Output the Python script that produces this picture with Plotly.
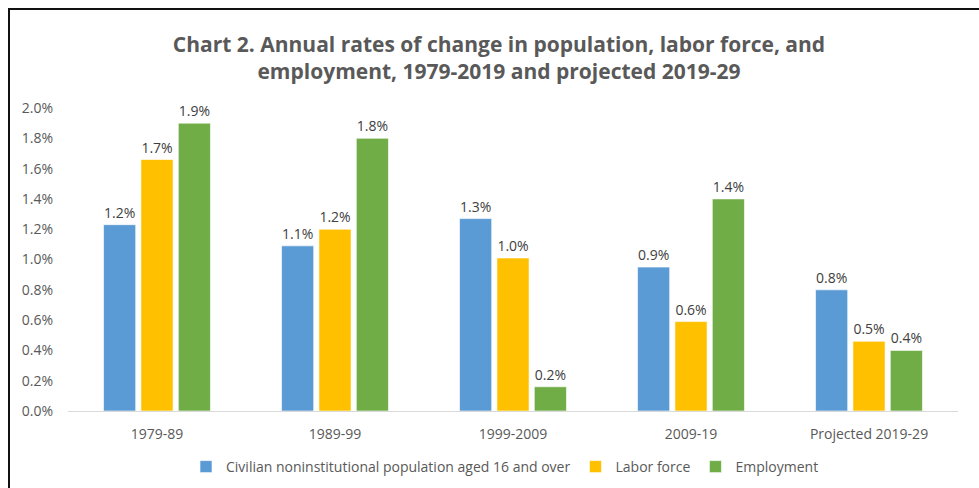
import plotly.graph_objects as go

# Periods on the category axis
periods = ["1979-89", "1989-99", "1999-2009", "2009-19", "Projected 2019-29"]

# Annual rates of change, in percent
population = [1.23, 1.09, 1.27, 0.95, 0.80]
labor_force = [1.66, 1.20, 1.01, 0.59, 0.46]
employment = [1.90, 1.80, 0.16, 1.40, 0.40]

series_names = [
    "Civilian noninstitutional population aged 16 and over",
    "Labor force",
    "Employment",
]
series_values = [population, labor_force, employment]
series_colors = ["#5B9BD5", "#FFC000", "#70AD47"]

y_ticks = [0.0, 0.2, 0.4, 0.6, 0.8, 1.0, 1.2, 1.4, 1.6, 1.8, 2.0]
y_tick_text = [f"{v:.1f}%" for v in y_ticks]

FONT = "Open Sans"
W, H = 979, 488
ML, MR, MT, MB = 68, 21, 108, 77

fig = go.Figure()
for name, vals, color in zip(series_names, series_values, series_colors):
    fig.add_trace(go.Bar(
        x=periods,
        y=vals,
        name=name,
        marker=dict(color=color, line=dict(color="rgba(255,255,255,0.6)", width=1)),
        texttemplate="%{y:.1f}%",
        textposition="outside",
        constraintext="none",
        textfont=dict(family=FONT, size=14, color="#404040"),
        cliponaxis=False,
    ))

# Chart border (top and left edges visible)
pw, ph = W - ML - MR, H - MT - MB
bx0 = (9 - ML) / pw
by1 = (H - MB - 9) / ph
fig.add_shape(type="rect", xref="paper", yref="paper",
              x0=bx0, x1=1.2, y0=-0.6, y1=by1,
              line=dict(color="#111111", width=2), layer="above")

# Legend row centred at x=505px, y=467px from the top of the figure
leg_x = (505 - ML) / pw
leg_y = (H - MB - 467) / ph

fig.update_layout(
    width=W, height=H,
    margin=dict(l=ML, r=MR, t=MT, b=MB, pad=0, autoexpand=False),
    paper_bgcolor="white",
    plot_bgcolor="white",
    barmode="group",
    bargap=0.37,
    bargroupgap=0.14,
    font=dict(family=FONT, color="#595959", size=14),
    title=dict(
        text="<b>Chart 2. Annual rates of change in population, labor force, and<br>employment, 1979-2019 and projected 2019-29</b>",
        x=499 / W, xanchor="center",
        y=1 - 51.5 / H, yanchor="middle",
        font=dict(family=FONT, size=21, color="#595959"),
    ),
    showlegend=True,
    legend=dict(
        orientation="h",
        x=leg_x, xanchor="center",
        y=leg_y, yanchor="middle",
        font=dict(family=FONT, size=14, color="#595959"),
        itemwidth=30,
        traceorder="normal",
    ),
    xaxis=dict(
        showline=True, linecolor="#D9D9D9", linewidth=1,
        ticks="", showgrid=False, automargin=False,
        ticklabelstandoff=10,
        tickfont=dict(family=FONT, size=14, color="#595959"),
    ),
    yaxis=dict(
        range=[0, 2.0],
        tickmode="array",
        tickvals=y_ticks,
        ticktext=y_tick_text,
        showgrid=False, zeroline=False, showline=False, automargin=False,
        ticks="", ticklabelstandoff=14,
        tickfont=dict(family=FONT, size=14, color="#595959"),
    ),
)

fig.write_html("out.html")
